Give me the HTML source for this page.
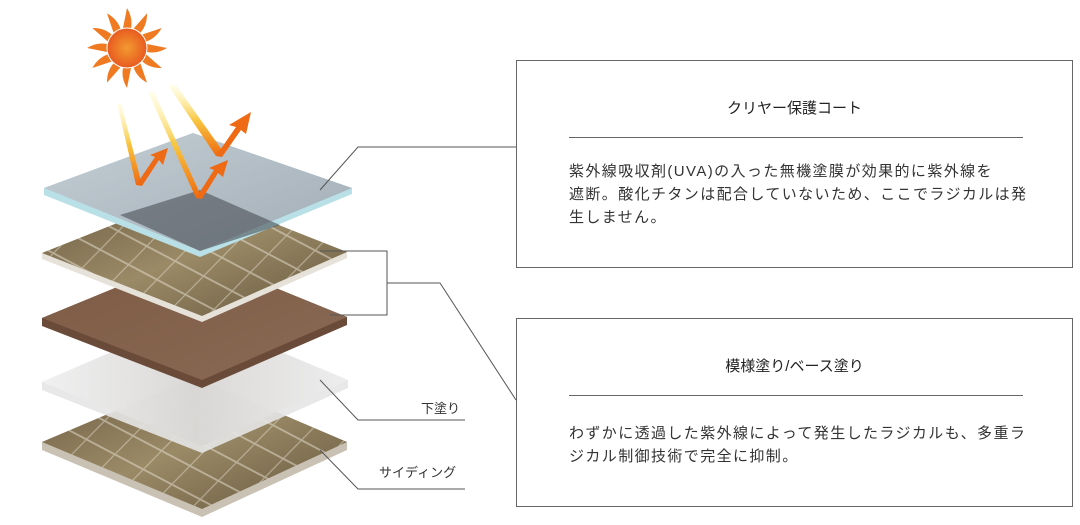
<!DOCTYPE html>
<html><head><meta charset="utf-8"><style>
body{margin:0;width:1080px;height:525px;background:#fff;position:relative;overflow:hidden;font-family:"Liberation Sans","Noto Sans CJK JP",sans-serif;color:#333}
.box{position:absolute;left:516px;width:557px;border:1px solid #666;box-sizing:border-box;background:#fff}
.t{position:absolute;left:0;right:0;text-align:center;font-size:15px;color:#222;font-weight:normal}
.rule{position:absolute;left:52px;width:454px;border-top:1px solid #666}
.b{position:absolute;left:52px;width:480px;font-size:15px;line-height:23px;letter-spacing:1.4px;white-space:nowrap;color:#333}
.lbl{position:absolute;font-size:13px;color:#333}
</style></head><body>
<svg width="1080" height="525" style="position:absolute;left:0;top:0">
<defs>
<linearGradient id="tile" x1="0" y1="0" x2="1" y2="1"><stop offset="0" stop-color="#6e5e44"/><stop offset=".5" stop-color="#9a8a66"/><stop offset="1" stop-color="#66573f"/></linearGradient>
<linearGradient id="brown" x1="0" y1="0" x2="1" y2="1"><stop offset="0" stop-color="#7d5a44"/><stop offset="1" stop-color="#8a6a55"/></linearGradient>
<linearGradient id="glass" x1="0" y1="0" x2="1" y2="1"><stop offset="0" stop-color="#c5ccd3"/><stop offset="1" stop-color="#9fa8b1"/></linearGradient>
<linearGradient id="white" x1="0" y1="0" x2="1" y2="0"><stop offset="0" stop-color="#f2f2f2"/><stop offset=".5" stop-color="#d8d6d4"/><stop offset="1" stop-color="#eeeeee"/></linearGradient>
<linearGradient id="beam" x1="0" y1="0" x2="0" y2="1"><stop offset="0" stop-color="#fff6a0" stop-opacity="0.2"/><stop offset=".5" stop-color="#f7c640"/><stop offset="1" stop-color="#ef6a10"/></linearGradient>
<radialGradient id="sun"><stop offset="0" stop-color="#f29a30"/><stop offset="1" stop-color="#e85a20"/></radialGradient>
<pattern id="grid" width="40" height="20" patternUnits="userSpaceOnUse" patternTransform="skewX(-30) rotate(22)"><rect width="40" height="20" fill="none" stroke="#e8e2d4" stroke-width="1.5"/></pattern>
</defs>
<polygon points="42,442 195,377 347,442 347,450 202,517 42,450" fill="#c9c2b4"/>
<polygon points="42,442 195,377 347,442 202,509" fill="url(#tile)"/>
<polygon points="42,442 195,377 347,442 202,509" fill="url(#grid)" opacity=".5"/>
<polygon points="42,382 195,316 348,380 348,388 202,453 42,390" fill="#e6e6e6" opacity=".9"/>
<polygon points="42,382 195,316 348,380 202,446" fill="url(#white)" opacity=".85"/>
<polygon points="42,318 195,255 347,317 347,325 202,388 42,326" fill="#6a4a38"/>
<polygon points="42,318 195,255 347,317 202,380" fill="url(#brown)"/>
<polygon points="42,253 195,192 347,252 347,258 202,322 42,259" fill="#e6e2da"/>
<polygon points="42,253 195,192 347,252 202,316" fill="url(#tile)"/>
<polygon points="42,253 195,192 347,252 202,316" fill="url(#grid)" opacity=".5"/>
<polygon points="44,188 193,133 352,188 352,194 200,257 44,195" fill="#b9e0e6"/>
<polygon points="44,188 193,133 352,188 200,251" fill="url(#glass)" opacity=".92"/>
<polygon points="120,215 200,190 280,225 200,251" fill="#4a4f55" opacity=".6"/>
<polygon points="117,103 121,103 142,185 136,185" fill="url(#beam)"/>
<polygon points="148,92 154,92 202,198 196,198" fill="url(#beam)"/>
<polygon points="168,85 176,85 222,150 216,156" fill="url(#beam)"/>
<polygon points="136,185 155,157 150,155 168,148 163,165 159,160 142,186" fill="#ee6a14"/>
<polygon points="196,198 214,170 209,168 228,160 223,177 218,173 202,199" fill="#ee6a14"/>
<polygon points="216,156 236,127 229,125 251,112 246,134 241,130 222,157" fill="#ee6a14"/>
<g transform="translate(127,48)">
<g fill="#ef7a22">
<path d="M0,-40 Q6,-30 4,-20 L-4,-20 Q-2,-30 0,-40Z"/>
<path d="M0,-40 Q6,-30 4,-20 L-4,-20 Q-2,-30 0,-40Z" transform="rotate(30)"/>
<path d="M0,-40 Q6,-30 4,-20 L-4,-20 Q-2,-30 0,-40Z" transform="rotate(60)"/>
<path d="M0,-40 Q6,-30 4,-20 L-4,-20 Q-2,-30 0,-40Z" transform="rotate(90)"/>
<path d="M0,-40 Q6,-30 4,-20 L-4,-20 Q-2,-30 0,-40Z" transform="rotate(120)"/>
<path d="M0,-40 Q6,-30 4,-20 L-4,-20 Q-2,-30 0,-40Z" transform="rotate(150)"/>
<path d="M0,-40 Q6,-30 4,-20 L-4,-20 Q-2,-30 0,-40Z" transform="rotate(180)"/>
<path d="M0,-40 Q6,-30 4,-20 L-4,-20 Q-2,-30 0,-40Z" transform="rotate(210)"/>
<path d="M0,-40 Q6,-30 4,-20 L-4,-20 Q-2,-30 0,-40Z" transform="rotate(240)"/>
<path d="M0,-40 Q6,-30 4,-20 L-4,-20 Q-2,-30 0,-40Z" transform="rotate(270)"/>
<path d="M0,-40 Q6,-30 4,-20 L-4,-20 Q-2,-30 0,-40Z" transform="rotate(300)"/>
<path d="M0,-40 Q6,-30 4,-20 L-4,-20 Q-2,-30 0,-40Z" transform="rotate(330)"/>
</g>
<circle r="20" fill="url(#sun)" stroke="#fff" stroke-width="1"/>
</g>
<g stroke="#555" stroke-width="1" fill="none">
<polyline points="320,190 358,147 516,147"/>
<polyline points="320,251 387,251 387,315 330,315"/>
<polyline points="387,283 440,283 516,400"/>
<polyline points="320,380 358,420 465,420"/>
<polyline points="320,450 358,489 465,489"/>
</g>
</svg>
<div class="lbl" style="left:421px;top:398px">下塗り</div>
<div class="lbl" style="left:379px;top:462px">サイディング</div>
<div class="box" style="top:60px;height:208px">
<div class="t" style="top:36px">クリヤー保護コート</div>
<div class="rule" style="top:76px"></div>
<div class="b" style="top:99px">紫外線吸収剤(UVA)の入った無機塗膜が効果的に紫外線を<br>遮断。酸化チタンは配合していないため、ここでラジカルは発<br>生しません。</div>
</div>
<div class="box" style="top:318px;height:189px">
<div class="t" style="top:36px">模様塗り/ベース塗り</div>
<div class="rule" style="top:76px"></div>
<div class="b" style="top:103px">わずかに透過した紫外線によって発生したラジカルも、多重ラ<br>ジカル制御技術で完全に抑制。</div>
</div>
</body></html>
